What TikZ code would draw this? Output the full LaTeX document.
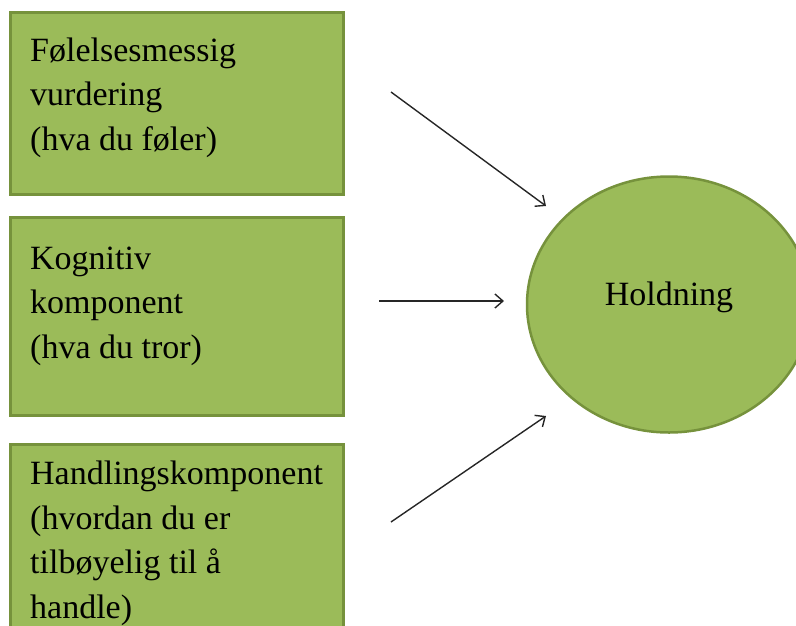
\documentclass[tikz,border=0pt]{standalone}
\usepackage{fontspec}
\setmainfont{Liberation Serif}
\usetikzlibrary{arrows.meta,shapes.geometric}
\definecolor{boxfill}{HTML}{9BBB59}
\definecolor{boxline}{HTML}{76923C}
\begin{document}
\begin{tikzpicture}[x=1pt,y=-1pt,
  greenbox/.style={draw=boxline,fill=boxfill,line width=3pt,inner sep=0pt},
  boxtext/.style={anchor=base west,inner sep=0pt,align=left,font=\fontsize{34}{44.5}\selectfont},
  conn/.style={line width=1.4pt,draw=black!85,-{Straight Barb[length=8pt,width=14pt,line width=1.4pt]}}]
\useasboundingbox (0,0) rectangle (796,625);
\node[greenbox,minimum width=333pt,minimum height=182pt] (b1) at (176.5,103) {};
\node[greenbox,minimum width=333pt,minimum height=198pt] (b2) at (176.5,316) {};
\node[greenbox,minimum width=333pt,minimum height=220pt] (b3) at (176.5,554) {};
\node[boxtext] (t1) at (30,150) {Følelsesmessig\\vurdering\\(hva du føler)};
\node[boxtext] (t2) at (30,358) {Kognitiv\\komponent\\(hva du tror)};
\node[boxtext] (t3) at (30,618) {Handlingskomponent\\(hvordan du er\\tilbøyelig til å\\handle)};
\node[greenbox,line width=2.5pt,ellipse,minimum width=284pt,minimum height=256pt] (h) at (669,304.5) {};
\node[anchor=base,inner sep=0pt,font=\fontsize{34}{40}\selectfont] (ht) at (669,305) {Holdning};
\coordinate (a1s) at (391,92);
\coordinate (a1e) at (546,206);
\coordinate (a2s) at (379,301);
\coordinate (a2e) at (504,301);
\coordinate (a3s) at (391,522);
\coordinate (a3e) at (546,416);
\draw[conn] (a1s) -- (a1e);
\draw[conn] (a2s) -- (a2e);
\draw[conn] (a3s) -- (a3e);
\end{tikzpicture}
\end{document}
